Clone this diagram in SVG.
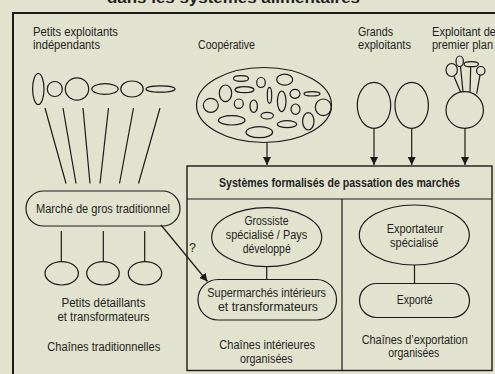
<svg xmlns="http://www.w3.org/2000/svg" width="495" height="374" viewBox="0 0 495 374">
<style>
text{font-family:"Liberation Sans","Arial",sans-serif;font-size:12.5px;fill:#231f20}
.c{text-anchor:middle}
.b{font-weight:bold}
.s{fill:none;stroke:#1a1a1a;stroke-width:1.2}
.l{stroke:#1a1a1a;stroke-width:1.2;fill:none}
</style>
<defs>
<marker id="ah" viewBox="0 0 10 10" refX="10" refY="5" markerWidth="8" markerHeight="8" markerUnits="userSpaceOnUse" orient="auto">
<path d="M0,0 L10,5 L0,10 z" fill="#1a1a1a"/>
</marker>
</defs>
<rect width="495" height="374" fill="#e1e3cf"/>
<text x="107" y="2.5" class="b" style="font-size:15px" textLength="253" lengthAdjust="spacingAndGlyphs">dans les systèmes alimentaires</text>
<rect x="13" y="13" width="500" height="380" fill="none" stroke="#1a1a1a" stroke-width="2"/>

<g id="petits-exploitants">
<text x="33" y="36" textLength="85" lengthAdjust="spacingAndGlyphs">Petits exploitants</text>
<text x="33" y="49" textLength="67" lengthAdjust="spacingAndGlyphs">indépendants</text>
<ellipse class="s" cx="38.3" cy="89" rx="5.7" ry="15.5"/>
<ellipse class="s" cx="54.8" cy="89" rx="7.5" ry="7.5"/>
<ellipse class="s" cx="77" cy="89" rx="11.7" ry="11.2"/>
<ellipse class="s" cx="105" cy="89" rx="13.2" ry="5.3"/>
<ellipse class="s" cx="132" cy="89" rx="11.2" ry="8"/>
<ellipse class="s" cx="160.5" cy="89" rx="14.5" ry="3.2"/>
</g>

<g id="cooperative">
<text x="198" y="49" textLength="57" lengthAdjust="spacingAndGlyphs">Coopérative</text>
<ellipse class="s" cx="264" cy="105" rx="67.5" ry="37.5"/>
<ellipse class="s" cx="241" cy="78.5" rx="7.5" ry="2.8"/>
<ellipse class="s" cx="261" cy="82.5" rx="4.3" ry="5"/>
<ellipse class="s" cx="284.7" cy="79.7" rx="8" ry="5.5"/>
<ellipse class="s" cx="225.5" cy="93.3" rx="6.2" ry="8.3"/>
<ellipse class="s" cx="244.5" cy="89.7" rx="9.5" ry="3"/>
<ellipse class="s" cx="269.5" cy="95.3" rx="2.2" ry="8"/>
<ellipse class="s" cx="281.7" cy="101.3" rx="4.3" ry="10.3"/>
<ellipse class="s" cx="295" cy="93.8" rx="5" ry="4.5"/>
<ellipse class="s" cx="312" cy="93.8" rx="8" ry="2.2"/>
<ellipse class="s" cx="210.8" cy="105.3" rx="7.5" ry="7"/>
<ellipse class="s" cx="238.8" cy="103.7" rx="4.5" ry="4.7"/>
<ellipse class="s" cx="253.7" cy="106.2" rx="3.7" ry="6.2"/>
<ellipse class="s" cx="295.5" cy="109.2" rx="4.5" ry="5.2"/>
<ellipse class="s" cx="323.3" cy="107.3" rx="8" ry="8.3"/>
<ellipse class="s" cx="231.7" cy="120.3" rx="13.3" ry="4.7"/>
<ellipse class="s" cx="267.2" cy="115.7" rx="6.2" ry="3.3"/>
<ellipse class="s" cx="287" cy="124.2" rx="9.7" ry="3.5"/>
<ellipse class="s" cx="308.3" cy="121.3" rx="5.7" ry="8.7"/>
<ellipse class="s" cx="259.3" cy="132.2" rx="13.3" ry="5.5"/>
</g>

<g id="grands-exploitants">
<text x="358" y="36" textLength="35" lengthAdjust="spacingAndGlyphs">Grands</text>
<text x="358" y="49" textLength="53" lengthAdjust="spacingAndGlyphs">exploitants</text>
<ellipse class="s" cx="374" cy="105.3" rx="16.7" ry="23"/>
<ellipse class="s" cx="411.7" cy="105.3" rx="16.7" ry="23"/>
</g>

<g id="exploitant-premier-plan">
<text x="432" y="36" textLength="64" lengthAdjust="spacingAndGlyphs">Exploitant de</text>
<text x="432" y="49" textLength="61" lengthAdjust="spacingAndGlyphs">premier plan</text>
<ellipse class="s" cx="464.7" cy="110" rx="18.7" ry="18.3"/>
<ellipse class="s" cx="451.7" cy="70" rx="5.7" ry="6.5"/>
<ellipse class="s" cx="459.7" cy="61.3" rx="3.7" ry="5.3"/>
<ellipse class="s" cx="471.2" cy="64.2" rx="7.2" ry="2.5"/>
<ellipse class="s" cx="480.8" cy="70.8" rx="4.2" ry="4.3"/>
<path class="l" d="M454,76.4 L460.7,92.2 M460.5,66.6 L463,91.7 M470.7,66.7 L470,91.7 M480,75.1 L476.7,93.7"/>
</g>

<g id="marche-gros">
<rect class="s" x="26" y="191" width="154" height="35" rx="17.5"/>
<text x="103" y="213" class="c" textLength="134" lengthAdjust="spacingAndGlyphs">Marché de gros traditionnel</text>
</g>

<g id="petits-detaillants">
<ellipse class="s" cx="61.7" cy="273.3" rx="16.7" ry="11.7"/>
<ellipse class="s" cx="103" cy="273.3" rx="16.3" ry="11.7"/>
<ellipse class="s" cx="145" cy="273.3" rx="16.7" ry="11.7"/>
<text x="103.5" y="306.5" class="c" textLength="84" lengthAdjust="spacingAndGlyphs">Petits détaillants</text>
<text x="103.5" y="320.5" class="c" textLength="92" lengthAdjust="spacingAndGlyphs">et transformateurs</text>
<text x="103.8" y="350.5" class="c" textLength="113" lengthAdjust="spacingAndGlyphs">Chaînes traditionnelles</text>
</g>

<g id="systemes-formalises">
<rect x="187" y="166" width="305" height="204.5" fill="none" stroke="#1a1a1a" stroke-width="1.4"/>
<line class="l" x1="187" y1="199" x2="492" y2="199"/>
<line class="l" x1="342" y1="199" x2="342" y2="370.5"/>
<text x="339.5" y="187" class="c b" textLength="241" lengthAdjust="spacingAndGlyphs">Systèmes formalisés de passation des marchés</text>
</g>

<g id="grossiste">
<ellipse class="s" cx="266.7" cy="237.2" rx="55" ry="29.5"/>
<text x="266.5" y="225" class="c" textLength="44" lengthAdjust="spacingAndGlyphs">Grossiste</text>
<text x="266.5" y="239" class="c" textLength="81.6" lengthAdjust="spacingAndGlyphs">spécialisé / Pays</text>
<text x="266.7" y="253" class="c" textLength="48" lengthAdjust="spacingAndGlyphs">développé</text>
</g>

<g id="supermarches">
<rect class="s" x="198" y="279.5" width="138.5" height="40.5" rx="20"/>
<text x="266.7" y="296.5" class="c" textLength="118.7" lengthAdjust="spacingAndGlyphs">Supermarchés intérieurs</text>
<text x="268" y="310.5" class="c" textLength="100" lengthAdjust="spacingAndGlyphs">et transformateurs</text>
<text x="267.2" y="348.5" class="c" textLength="95.7" lengthAdjust="spacingAndGlyphs">Chaînes intérieures</text>
<text x="266.4" y="363" class="c" textLength="52.7" lengthAdjust="spacingAndGlyphs">organisées</text>
</g>

<g id="exportateur">
<ellipse class="s" cx="414.3" cy="235" rx="55" ry="30"/>
<text x="415" y="233" class="c" textLength="56.7" lengthAdjust="spacingAndGlyphs">Exportateur</text>
<text x="414.2" y="246.5" class="c" textLength="48.3" lengthAdjust="spacingAndGlyphs">spécialisé</text>
</g>

<g id="exporte">
<rect class="s" x="359.5" y="283.5" width="110" height="34" rx="17"/>
<text x="414.7" y="303.5" class="c" textLength="36" lengthAdjust="spacingAndGlyphs">Exporté</text>
<text x="414.7" y="343.5" class="c" textLength="106" lengthAdjust="spacingAndGlyphs">Chaînes d’exportation</text>
<text x="413.8" y="357" class="c" textLength="51" lengthAdjust="spacingAndGlyphs">organisées</text>
</g>

<g id="connectors">
<path class="l" d="M45,108 L66,183.5 M63,108 L76,183.5 M83,108 L90,183.5 M108.5,108 L100,183.5 M133.5,108 L119.5,183.5 M160,108 L138.5,183.5"/>
<path class="l" d="M61.3,231 V261.6 M103.3,231 V261.6 M144.7,231 V261.6"/>
<path class="l" d="M267,142.5 V165" marker-end="url(#ah)"/>
<path class="l" d="M374,128.3 V165" marker-end="url(#ah)"/>
<path class="l" d="M411.7,128.3 V165" marker-end="url(#ah)"/>
<path class="l" d="M465,128.3 V165" marker-end="url(#ah)"/>
<path class="l" d="M161,225 L207.5,281.5" marker-end="url(#ah)"/>
<text x="189" y="252">?</text>
<path class="l" d="M266.7,266.7 V279.5"/>
<path class="l" d="M414.5,265 V283.5"/>
</g>
</svg>
